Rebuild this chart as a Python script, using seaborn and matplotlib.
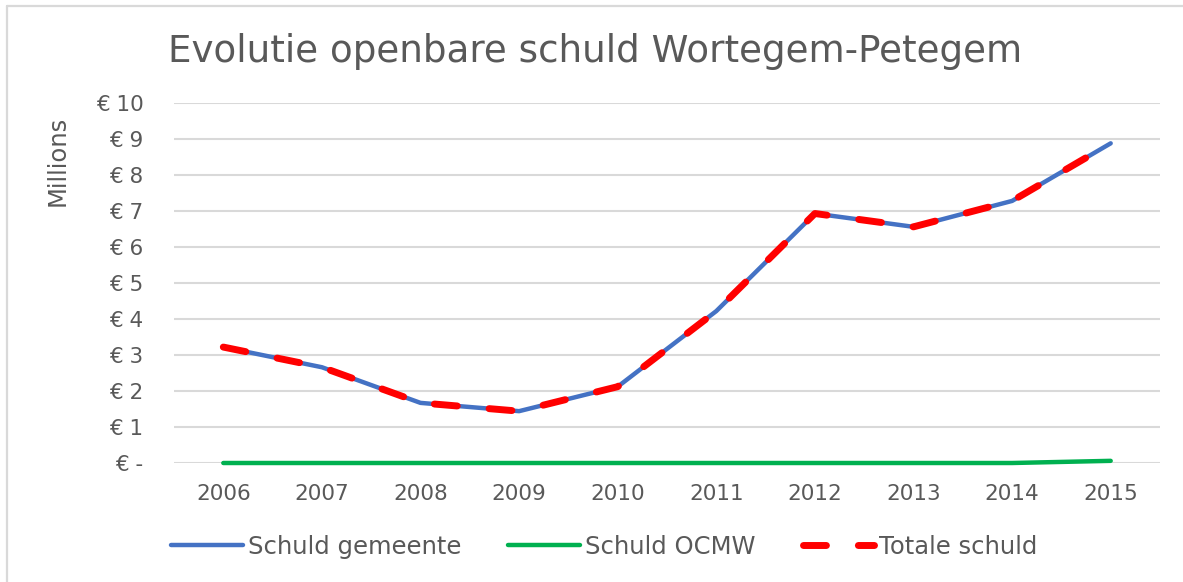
import numpy as np
import matplotlib
matplotlib.use("Agg")
import matplotlib.pyplot as plt
import seaborn as sns
import pandas as pd
from matplotlib.lines import Line2D

years = ["2006", "2007", "2008", "2009", "2010", "2011", "2012", "2013", "2014", "2015"]
schuld_gemeente = [3.22, 2.66, 1.67, 1.44, 2.12, 4.22, 6.93, 6.56, 7.28, 8.88]
schuld_ocmw = [0.0, 0.0, 0.0, 0.0, 0.0, 0.0, 0.0, 0.0, 0.0, 0.06]
totale_schuld = [3.22, 2.66, 1.67, 1.44, 2.12, 4.22, 6.93, 6.56, 7.28, 8.88]
y_ticks = [0, 1, 2, 3, 4, 5, 6, 7, 8, 9, 10]
y_labels = ["€ -", "€ 1", "€ 2", "€ 3", "€ 4", "€ 5", "€ 6", "€ 7", "€ 8", "€ 9", "€ 10"]

df = pd.DataFrame({"jaar": years, "Schuld gemeente": schuld_gemeente,
                   "Schuld OCMW": schuld_ocmw, "Totale schuld": totale_schuld})
df["x"] = np.arange(len(years))

sns.set_style("white")
plt.rcParams['font.family'] = ['DejaVu Sans']
txt = "#595959"

fig = plt.figure(figsize=(11.83, 5.82), dpi=100)
ax = fig.add_axes([174 / 1183, 1 - 463 / 582, (1160 - 174) / 1183, 360 / 582])

sns.lineplot(data=df, x="x", y="Schuld gemeente", ax=ax, color="#4472C4", lw=3.2,
             solid_capstyle="round", solid_joinstyle="round")
sns.lineplot(data=df, x="x", y="Schuld OCMW", ax=ax, color="#00B050", lw=3.2,
             solid_capstyle="round", solid_joinstyle="round", clip_on=False)
sns.lineplot(data=df, x="x", y="Totale schuld", ax=ax, color="#FF0000", lw=5,
             linestyle=(0, (3.3, 4.6)), dash_capstyle="round", dash_joinstyle="round")

ax.set_xlim(-0.5, len(years) - 0.5)
ax.set_ylim(0, 10)
ax.set_xticks(df["x"])
ax.set_xticklabels(years)
ax.set_yticks(y_ticks)
ax.set_yticklabels(y_labels)
ax.tick_params(axis="both", length=0, labelsize=15.5, colors=txt)
ax.tick_params(axis="y", pad=22)
ax.tick_params(axis="x", pad=15)
ax.grid(axis="y", color="#D9D9D9", lw=1.5)
ax.set_axisbelow(True)
for s in ax.spines.values():
    s.set_visible(False)
ax.set_xlabel("")
ax.set_ylabel("")

fig.text(168 / 1183, 1 - 51 / 582, "Evolutie openbare schuld Wortegem-Petegem",
         fontsize=26.8, color=txt, va="center", ha="left")
fig.text(58 / 1183, 1 - 161 / 582, "Millions", rotation=90, fontsize=17.5,
         color=txt, va="center", ha="center")

handles = [
    Line2D([], [], color="#4472C4", lw=3.2, solid_capstyle="round"),
    Line2D([], [], color="#00B050", lw=3.2, solid_capstyle="round"),
    Line2D([], [], color="#FF0000", lw=5, linestyle=(0, (3.3, 4.6)), dash_capstyle="round"),
]
fig.legend(handles, ["Schuld gemeente", "Schuld OCMW", "Totale schuld"],
           loc="center left", bbox_to_anchor=(171 / 1183, 1 - 547 / 582), ncol=3,
           frameon=False, fontsize=17.5, labelcolor=txt, handlelength=2.95,
           handletextpad=0.2, columnspacing=1.95, borderaxespad=0, borderpad=0)

fig.add_artist(Line2D([6.5 / 1183, 6.5 / 1183], [0, 1 - 5.5 / 582], color="#D9D9D9", lw=1.6))
fig.add_artist(Line2D([6.5 / 1183, 1], [1 - 5.5 / 582, 1 - 5.5 / 582], color="#D9D9D9", lw=1.6))

fig.savefig("out.png", dpi=100)
